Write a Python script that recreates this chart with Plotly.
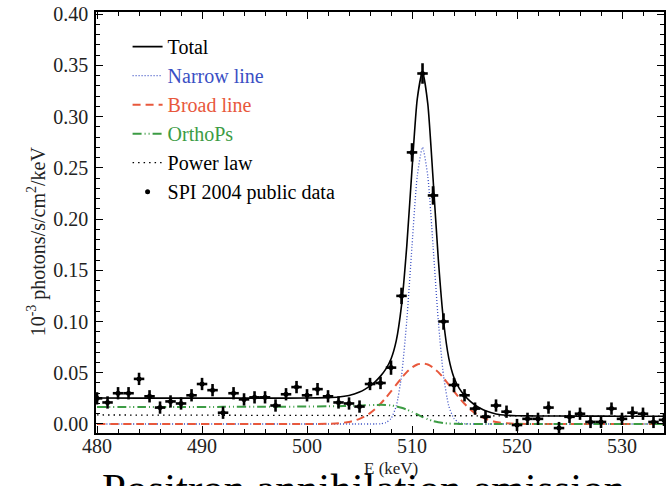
import plotly.graph_objects as go

# ---- data points (SPI 2004 public data) ----
e_data = [480, 481, 482, 483, 484, 485, 486, 487, 488, 489, 490, 491, 492, 493, 494,
          495, 496, 497, 498, 499, 500, 501, 502, 503, 504, 505, 506, 507, 508, 509,
          510, 511, 512, 513, 514, 515, 516, 517, 518, 519, 520, 521, 522, 523, 524,
          525, 526, 527, 528, 529, 530, 531, 532, 533, 534]
flux_data = [0.025, 0.021, 0.030, 0.030, 0.044, 0.027, 0.016, 0.022, 0.020, 0.028,
             0.039, 0.033, 0.011, 0.030, 0.024, 0.026, 0.026, 0.018, 0.029, 0.036,
             0.028, 0.034, 0.027, 0.021, 0.020, 0.017, 0.039, 0.040, 0.055, 0.125,
             0.265, 0.342, 0.223, 0.100, 0.038, 0.028, 0.015, 0.007, 0.018, 0.012,
             -0.001, 0.005, 0.005, 0.016, -0.004, 0.007, 0.010, 0.002, 0.002, 0.015,
             0.005, 0.011, 0.010, 0.002, 0.004]
flux_err = [0.006] * 28 + [0.007, 0.008, 0.009, 0.010, 0.009, 0.008, 0.007] + [0.006] * 20
bin_half = [0.5] * len(e_data)

# ---- model components ----
e_model = [480, 484, 488, 492, 496, 500, 502, 503, 504, 504.5, 505, 505.5, 506, 506.5,
           507, 507.5, 508, 508.5, 509, 509.5, 510, 510.5, 511, 511.5, 512, 512.5, 513,
           513.5, 514, 514.5, 515, 515.5, 516, 516.5, 517, 518, 519, 520, 522, 526, 530, 534]
narrow = [0, 0, 0, 0, 0, 0, 0, 0, 0, 0, 0, 0, 0, 0,
          0.0002, 0.0013, 0.0053, 0.0176, 0.047, 0.101, 0.174, 0.242, 0.270, 0.242, 0.174,
          0.101, 0.047, 0.0176, 0.0053, 0.0013, 0.0002, 0, 0, 0, 0, 0, 0, 0, 0, 0, 0, 0]
broad = [0, 0, 0, 0, 0, 0, 0.0002, 0.0007, 0.0020, 0.0032, 0.0050, 0.0074, 0.0106, 0.0147,
         0.0197, 0.0255, 0.0318, 0.0384, 0.0449, 0.0506, 0.0551, 0.0580, 0.0590, 0.0580,
         0.0551, 0.0506, 0.0449, 0.0384, 0.0318, 0.0255, 0.0197, 0.0147, 0.0106, 0.0074,
         0.0050, 0.0020, 0.0007, 0.0002, 0, 0, 0, 0]
orthops = [0.0165, 0.0165, 0.0166, 0.0167, 0.0168, 0.0170, 0.0172, 0.0174, 0.0176, 0.0178,
           0.0180, 0.0182, 0.0184, 0.0186, 0.0187, 0.0186, 0.0182, 0.0172, 0.0158, 0.0140,
           0.0118, 0.0093, 0.0068, 0.0046, 0.0029, 0.0017, 0.0009, 0.0004, 0.0002, 0.0001,
           0, 0, 0, 0, 0, 0, 0, 0, 0, 0, 0, 0]
powerlaw = [0.0088, 0.0087, 0.0086, 0.0085, 0.0084, 0.0083, 0.0083, 0.0082, 0.0082, 0.0082,
            0.0082, 0.0082, 0.0081, 0.0081, 0.0081, 0.0081, 0.0081, 0.0081, 0.0080, 0.0080,
            0.0080, 0.0080, 0.0080, 0.0080, 0.0080, 0.0080, 0.0079, 0.0079, 0.0079, 0.0079,
            0.0079, 0.0079, 0.0079, 0.0079, 0.0078, 0.0078, 0.0078, 0.0078, 0.0078, 0.0077,
            0.0076, 0.0076]
total = [0.0253, 0.0252, 0.0252, 0.0252, 0.0252, 0.0253, 0.0257, 0.0263, 0.0278, 0.0292,
         0.0312, 0.0338, 0.0371, 0.0414, 0.0467, 0.0535, 0.0634, 0.0813, 0.1157, 0.1736,
         0.2489, 0.3173, 0.3438, 0.3126, 0.2400, 0.1613, 0.1007, 0.0643, 0.0452, 0.0348,
         0.0278, 0.0226, 0.0185, 0.0153, 0.0128, 0.0098, 0.0085, 0.0080, 0.0078, 0.0077,
         0.0076, 0.0076]

x_ticks = [480, 490, 500, 510, 520, 530]
y_ticks = [0.00, 0.05, 0.10, 0.15, 0.20, 0.25, 0.30, 0.35, 0.40]
y_tick_labels = ["0.00", "0.05", "0.10", "0.15", "0.20", "0.25", "0.30", "0.35", "0.40"]

SERIF = "Liberation Serif, Times New Roman, serif"
BLUE = "#3a4fc4"
RED = "#e8583c"
GREEN = "#3c9c44"

fig = go.Figure()

fig.add_trace(go.Scatter(x=e_model, y=total, mode="lines", name="Total",
                         line=dict(color="black", width=1.6, shape="spline", smoothing=0.6),
                         legendgroup="a"))
fig.add_trace(go.Scatter(x=e_model, y=narrow, mode="lines",
                         name="<span style='color:%s'>Narrow line</span>" % BLUE,
                         line=dict(color=BLUE, width=1.3, dash="1px,2px", shape="spline", smoothing=0.6),
                         legendgroup="b"))
fig.add_trace(go.Scatter(x=e_model, y=broad, mode="lines",
                         name="<span style='color:%s'>Broad line</span>" % RED,
                         line=dict(color=RED, width=2, dash="8px,5px", shape="spline", smoothing=0.6),
                         legendgroup="c"))
fig.add_trace(go.Scatter(x=e_model, y=orthops, mode="lines",
                         name="<span style='color:%s'>OrthoPs</span>" % GREEN,
                         line=dict(color=GREEN, width=2, dash="9px,3px,1px,3px,1px,3px", shape="spline", smoothing=0.6),
                         legendgroup="d"))
fig.add_trace(go.Scatter(x=e_model, y=powerlaw, mode="lines", name="Power law",
                         line=dict(color="black", width=1.3, dash="1.5px,4px"),
                         legendgroup="e"))
fig.add_trace(go.Scatter(x=e_data, y=flux_data, mode="markers", name="SPI 2004 public data",
                         marker=dict(color="black", size=5),
                         error_x=dict(type="data", array=bin_half, color="black", thickness=2.6, width=0),
                         error_y=dict(type="data", array=flux_err, color="black", thickness=2.6, width=0),
                         legendgroup="f"))

axis_common = dict(showline=True, linecolor="black", linewidth=1.5, mirror="allticks",
                   ticks="inside", tickcolor="black", tickwidth=1.2, ticklen=7,
                   showgrid=False, zeroline=False, automargin=False,
                   tickfont=dict(family=SERIF, size=20, color="#222222"))

fig.update_xaxes(range=[479.9, 534.0], tickvals=x_ticks, ticktext=[str(v) for v in x_ticks],
                 ticklabelstandoff=-6,
                 minor=dict(dtick=2, ticks="inside", ticklen=4, tickcolor="black", tickwidth=1),
                 **axis_common)
fig.update_yaxes(range=[-0.0088, 0.402], tickvals=y_ticks, ticktext=y_tick_labels,
                 ticklabelstandoff=2,
                 minor=dict(dtick=0.01, tick0=0, ticks="inside", ticklen=4, tickcolor="black", tickwidth=1),
                 **axis_common)

fig.update_layout(
    width=667, height=486,
    margin=dict(l=96, r=3, t=12, b=53),
    paper_bgcolor="white", plot_bgcolor="white",
    font=dict(family=SERIF, color="black"),
    showlegend=True,
    legend=dict(x=0.0556, y=0.964, xanchor="left", yanchor="top",
                bgcolor="rgba(255,255,255,0)", borderwidth=0,
                font=dict(family=SERIF, size=20, color="black"),
                traceorder="grouped", tracegroupgap=0, itemwidth=30),
    annotations=[
        dict(text="10<sup>-3</sup> photons/s/cm<sup>2</sup>/keV", xref="paper", yref="paper",
             x=-0.104, y=0.455, xanchor="center", yanchor="middle", textangle=-90,
             showarrow=False, font=dict(family=SERIF, size=20, color="#222222")),
        dict(text="E (keV)", xref="paper", yref="paper", x=0.52, y=-0.084,
             xanchor="center", yanchor="middle", showarrow=False,
             font=dict(family=SERIF, size=17, color="#222222")),
        dict(text="Positron annihilation emission", xref="paper", yref="paper",
             x=0.007, y=-0.071, xanchor="left", yanchor="top", showarrow=False,
             font=dict(family=SERIF, size=43, color="black")),
    ],
)

fig.write_html("out.html", config={"displayModeBar": False},
               post_script="document.body.style.margin='0';")
